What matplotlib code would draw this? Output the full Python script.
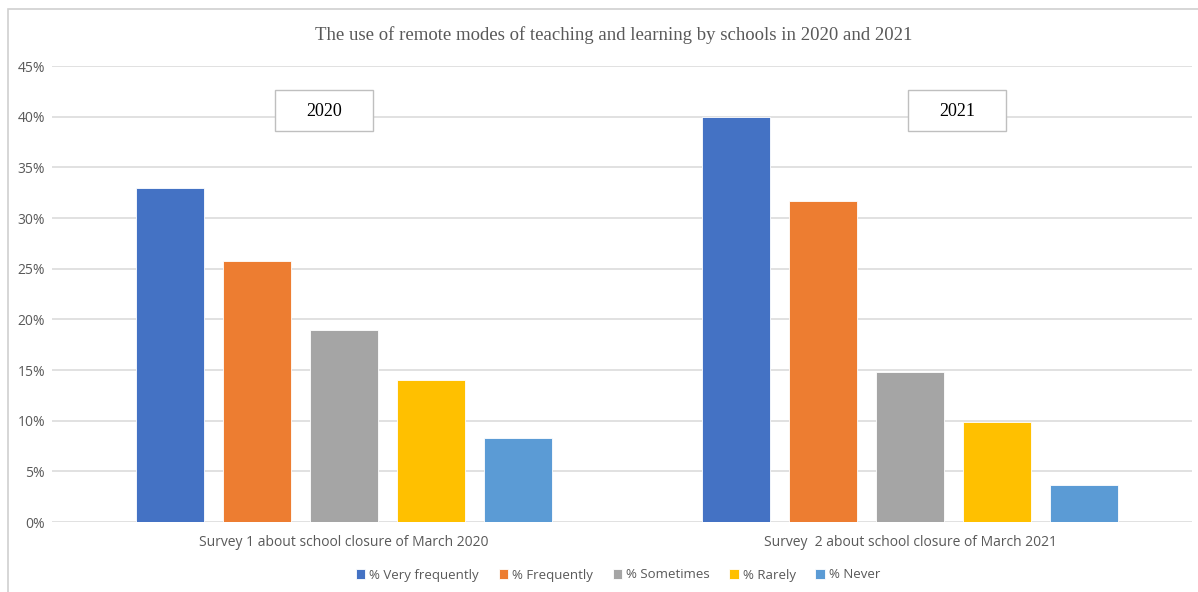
import numpy as np
import matplotlib

matplotlib.use("Agg")
import matplotlib.pyplot as plt
from matplotlib.patches import Rectangle
from matplotlib.ticker import PercentFormatter

# data
groups = ["Survey 1 about school closure of March 2020", "Survey  2 about school closure of March 2021"]
year_tags = ["2020", "2021"]
series = ["% Very frequently", "% Frequently", "% Sometimes", "% Rarely", "% Never"]
values_2020 = [33.0, 25.8, 18.9, 14.0, 8.3]
values_2021 = [40.0, 31.7, 14.8, 9.9, 3.7]
yticks = [0, 5, 10, 15, 20, 25, 30, 35, 40, 45]

colors = ["#4472C4", "#ED7D31", "#A5A5A5", "#FFC000", "#5B9BD5"]
grid_col = "#D9D9D9"
text_col = "#595959"

W, H = 1198, 592
fig = plt.figure(figsize=(W / 100, H / 100), dpi=100)

# outer chart frame
fig.patches.append(Rectangle((8 / W, -0.05), 1.1, (H - 9) / H + 0.05, transform=fig.transFigure,
                             fill=False, ec="#D0D0D0", lw=1.2))

ax = fig.add_axes([52 / W, (H - 522) / H, (1192 - 52) / W, 456 / H])
for s in ax.spines.values():
    s.set_visible(False)

x = np.arange(len(groups))
step = 87 / 566
width = 68 / 566
data = np.array([values_2020, values_2021])
for i, name in enumerate(series):
    ax.bar(x + (i - 2) * step, data[:, i], width, color=colors[i], label=name,
           edgecolor="white", linewidth=0.6, zorder=3)

ax.set_xlim((52 - 344) / 566, (1192 - 344) / 566)
ax.set_ylim(0, 45)
ax.set_yticks(yticks)
ax.yaxis.set_major_formatter(PercentFormatter(decimals=0))
ax.grid(axis="y", color=grid_col, lw=1.1, zorder=0)
ax.set_axisbelow(True)
ax.tick_params(axis="y", length=0, pad=5, labelsize=10, labelcolor=text_col)
ax.tick_params(axis="x", length=0, pad=9, labelsize=10, labelcolor=text_col)
for lab in ax.get_yticklabels():
    lab.set_fontfamily("Open Sans")
ax.set_xticks(x)
ax.set_xticklabels(groups, fontfamily="Open Sans")

# year boxes (fixed size, like the text boxes in the original)
for x0_px, tag in zip([275, 908], year_tags):
    fig.patches.append(Rectangle((x0_px / W, (H - 131) / H), 98 / W, 41 / H, transform=fig.transFigure,
                                 fc="white", ec="#BFBFBF", lw=1.0, zorder=5))
    fig.text((x0_px + 49) / W, (H - 111) / H, tag, ha="center", va="center", fontsize=13,
             fontfamily="Liberation Serif", color="black", zorder=6)

fig.text(614 / W, (H - 35) / H, "The use of remote modes of teaching and learning by schools in 2020 and 2021",
         ha="center", va="center", fontsize=13.5, fontfamily="Liberation Serif", color=text_col)

leg = fig.legend(loc="center", bbox_to_anchor=(618 / W, (H - 575) / H), ncol=5, frameon=False,
                 handlelength=0.7, handleheight=0.7, handletextpad=0.3, columnspacing=1.5,
                 prop={"family": "Open Sans", "size": 9.5})
for t in leg.get_texts():
    t.set_color(text_col)

fig.savefig("out.png", dpi=100)
